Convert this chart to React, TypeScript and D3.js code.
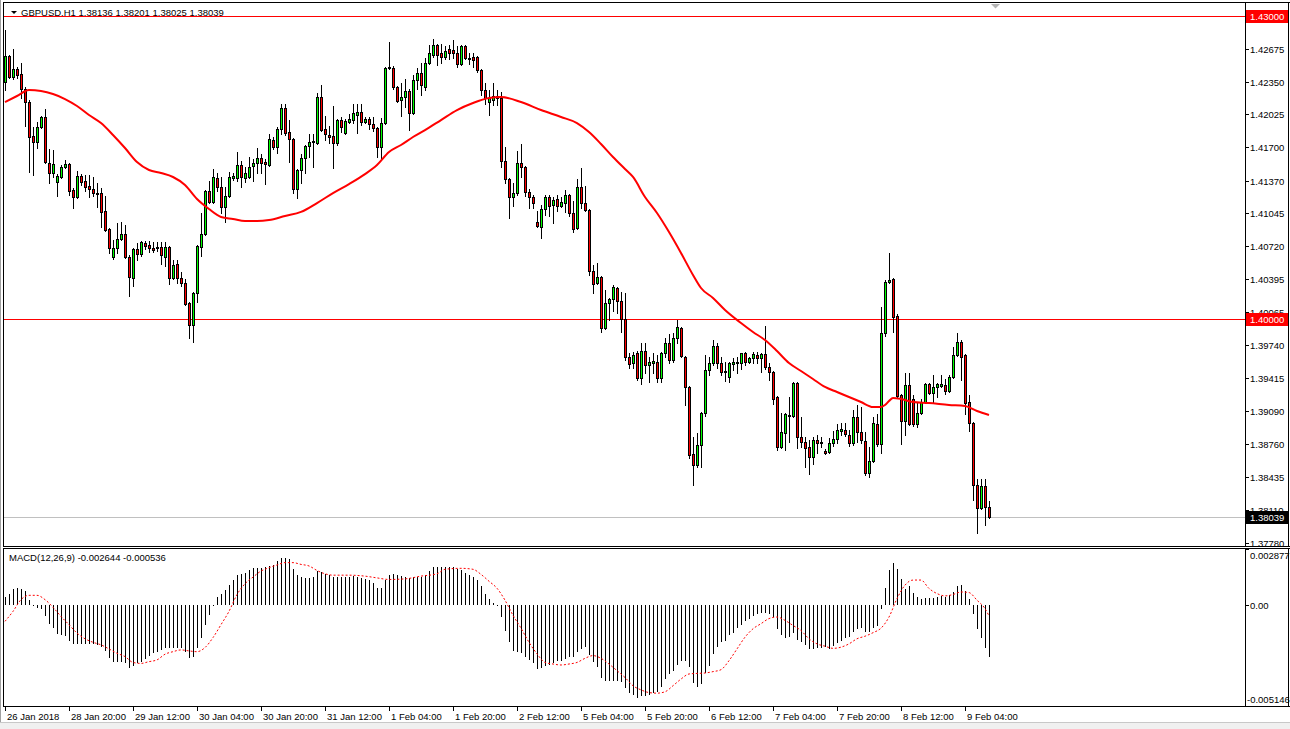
import React from 'react';
import * as d3 from 'd3';

// ---------- DATA (prices in points, 1e-5) ----------
const openPts = [142346,142604,142396,142475,142426,142277,142148,141812,141752,141901,142000,141544,141445,141356,141406,141505,141534,141277,141208,141416,141366,141317,141287,141247,141247,141069,140891,140614,140703,140792,140842,140614,140406,140693,140644,140753,140733,140703,140703,140713,140614,140713,140406,140544,140406,140356,140158,139941,140257,140713,140842,141267,141158,141396,141307,141109,141218,141396,141396,141525,141396,141406,141515,141544,141594,141554,141525,141772,141703,141881,142089,141851,141782,141287,141475,141594,141713,141752,141742,142198,141881,141822,141812,141742,141970,141841,141950,141970,142020,142049,141950,141980,141930,141891,141703,141940,142485,142485,142297,142168,142198,142257,142040,142366,142435,142297,142534,142614,142713,142634,142594,142673,142663,142634,142525,142703,142574,142594,142594,142465,142267,142148,142168,142208,142188,141564,141386,141208,141247,141544,141505,141257,141208,140960,140911,141089,141208,141129,141188,141119,141148,141228,141049,140901,141307,141148,141079,140475,140356,140416,139911,140158,140198,140307,140178,140000,139624,139564,139664,139416,139683,139545,139564,139574,139416,139664,139763,139594,139812,139911,139624,139327,138664,138555,138753,139070,139495,139564,139733,139564,139485,139426,139554,139564,139564,139664,139574,139614,139644,139614,139654,139525,139475,139228,138733,138872,139040,139040,139366,138832,138782,138733,138634,138802,138782,138693,138683,138772,138812,138891,138901,138852,138772,139030,138882,138792,138476,138594,138961,138763,139862,140366,140396,140030,139248,138990,139346,139208,138961,139070,139178,139356,139267,139327,139337,139346,139287,139426,139644,139772,139644,139178,138971,138357,138129,138347,138136];
const highPts = [142861,142614,142673,142495,142534,142297,142168,141901,141950,142010,142079,141683,141673,141435,141525,141574,141544,141297,141465,141435,141426,141426,141406,141346,141297,141218,140901,140782,140951,140960,140931,140634,140703,140753,140772,140772,140772,140762,140762,140762,140762,140723,140584,140584,140465,140396,140168,140267,140733,141049,141277,141366,141485,141445,141406,141307,141455,141445,141653,141564,141505,141604,141584,141693,141634,141584,141831,141802,141901,142128,142128,141970,141792,141485,141634,141723,141831,141831,142238,142317,142010,141911,142109,141980,142000,141980,142030,142128,142128,142128,142000,142000,142000,141901,141990,142495,142743,142505,142307,142337,142376,142277,142416,142485,142534,142584,142713,142772,142723,142723,142703,142713,142762,142703,142713,142713,142634,142634,142604,142475,142337,142267,142337,142267,142248,141703,141396,141346,141663,141733,141515,141287,141228,141069,141129,141228,141228,141208,141228,141208,141277,141238,141168,141386,141495,141317,141089,140535,140554,140426,140287,140208,140337,140317,140267,140257,139664,139673,139683,139763,139763,139624,139664,139644,139673,139812,139852,139862,139990,139921,139634,139337,138832,138872,139080,139644,139624,139792,139763,139624,139574,139574,139614,139624,139664,139673,139624,139673,139673,139664,139931,139564,139485,139238,139070,139070,139228,139376,139376,139030,138832,138802,138832,138852,138832,138713,138822,138891,138961,138971,138971,138901,139099,139149,139129,138882,138733,139030,139060,140119,140386,140654,140406,140050,139257,139465,139465,139248,139168,139208,139366,139366,139446,139366,139446,139406,139446,139723,139862,139792,139654,139248,138980,138416,138416,138416,138201];
const lowPts = [142267,142386,142376,142386,142188,141911,141455,141426,141693,141891,141544,141346,141406,141218,141396,141495,141228,141099,141198,141327,141267,141208,141218,141109,140911,140871,140654,140594,140654,140782,140604,140228,140327,140584,140624,140693,140664,140664,140673,140544,140525,140346,140396,140356,140327,140139,139812,139772,140168,140624,140832,141148,141148,141267,141049,140960,141208,141376,141366,141307,141356,141396,141366,141445,141445,141336,141515,141683,141643,141831,141822,141554,141247,141198,141346,141445,141604,141505,141733,141861,141772,141742,141495,141723,141851,141831,141940,141940,141841,141921,141940,141881,141861,141604,141574,141930,142475,142277,142148,142010,142099,141871,142030,142277,142218,142267,142525,142594,142515,142534,142574,142574,142584,142495,142515,142574,142525,142495,142445,142218,142128,142020,142119,142119,141505,141346,141000,141119,141228,141406,141218,141099,141099,140911,140802,141030,141020,140951,141069,141109,141060,141020,140862,140891,141099,141069,140436,140257,140346,139872,139901,139990,140079,140059,139872,139594,139515,139515,139396,139356,139465,139376,139465,139376,139376,139624,139564,139574,139763,139624,139149,138624,138357,138535,138535,139040,139446,139545,139515,139446,139386,139376,139495,139465,139505,139545,139564,139564,139564,139475,139505,139396,139158,138703,138723,138703,138782,139030,138723,138733,138535,138466,138564,138674,138733,138664,138674,138743,138772,138852,138842,138743,138753,138782,138772,138456,138436,138584,138743,138674,139832,140356,139872,139228,138763,138852,138951,138941,138931,139060,139168,139257,139168,139228,139327,139257,139277,139416,139634,139396,139060,138891,138208,137882,138119,137961,138025];
const closePts = [142604,142396,142475,142416,142277,142148,141802,141752,141901,142000,141554,141445,141534,141416,141505,141534,141267,141208,141416,141356,141307,141287,141247,141238,141060,140881,140703,140703,140792,140842,140614,140416,140693,140644,140762,140723,140703,140683,140713,140634,140713,140406,140535,140406,140356,140148,139941,140257,140723,140842,141267,141158,141406,141307,141109,141218,141406,141416,141525,141406,141445,141505,141544,141594,141544,141534,141782,141703,141881,142089,141841,141782,141287,141475,141594,141713,141752,141762,142198,141871,141831,141802,141742,141970,141901,141960,141980,142040,142049,141950,141980,141930,141891,141703,141940,142485,142495,142297,142158,142198,142257,142040,142366,142435,142317,142534,142634,142713,142614,142594,142653,142634,142634,142525,142703,142584,142584,142564,142465,142267,142188,142188,142208,142188,141564,141386,141208,141247,141544,141505,141257,141208,141148,140921,141089,141208,141119,141178,141119,141158,141228,141049,140891,141307,141148,141079,140475,140346,140416,139911,140158,140198,140317,140178,140000,139624,139554,139644,139416,139683,139545,139574,139584,139416,139664,139763,139594,139812,139921,139634,139327,138654,138555,138753,139070,139495,139564,139733,139564,139475,139475,139564,139574,139574,139664,139574,139614,139654,139614,139654,139525,139475,139208,138733,138882,139060,139050,139366,138832,138782,138723,138634,138802,138772,138772,138674,138772,138812,138901,138911,138862,138772,139030,138882,138802,138476,138594,138971,138763,139862,140366,140386,140020,139238,138990,139346,138961,138961,139070,139178,139356,139267,139327,139356,139356,139287,139426,139644,139772,139624,139168,138971,138357,138129,138347,138139,138039];

// Moving average read at sample bars
const maBars = [0,3,6,9,12,15,18,21,24,27,30,33,36,39,42,45,48,51,54,57,60,63,66,70,74,78,82,86,90,93,96,99,102,105,109,113,117,121,124,129,134,139,143,146,149,152,155,157,160,163,166,169,172,174,177,180,184,187,190,193,196,199,202,205,208,211,214,217,219,220,221,222,224,227,231,236,240,243,246];
const maPts = [142148,142208,142267,142257,142227,142178,142109,142020,141940,141822,141693,141554,141475,141445,141406,141327,141188,141089,141010,140990,140970,140970,140980,141020,141060,141148,141247,141336,141435,141525,141653,141723,141802,141871,141970,142069,142139,142188,142198,142148,142069,142000,141940,141851,141733,141604,141485,141406,141208,141049,140861,140654,140436,140307,140208,140089,139960,139871,139792,139683,139564,139485,139406,139327,139277,139228,139178,139129,139129,139148,139188,139218,139208,139178,139168,139149,139139,139089,139050];

// MACD main (histogram), units of 1e-5
const macdPts = [41,60,81,89,84,72,29,3,-14,-17,-57,-94,-117,-148,-154,-159,-182,-199,-199,-199,-199,-199,-199,-202,-211,-233,-267,-288,-288,-288,-297,-319,-309,-297,-288,-274,-259,-245,-237,-228,-216,-216,-216,-216,-220,-240,-267,-262,-216,-168,-99,-48,-2,41,58,76,106,127,153,158,166,178,189,192,192,195,201,206,226,243,243,235,184,154,146,140,140,144,175,171,161,154,144,144,144,144,144,149,144,140,135,127,115,89,86,127,154,158,154,149,146,140,146,146,146,154,175,195,197,197,197,197,195,184,178,166,154,144,127,98,58,34,12,-5,-60,-129,-185,-231,-237,-243,-266,-278,-295,-326,-322,-312,-305,-295,-283,-283,-274,-266,-266,-237,-223,-214,-254,-292,-317,-369,-386,-386,-386,-386,-391,-425,-449,-459,-475,-466,-463,-459,-446,-442,-420,-377,-351,-334,-305,-283,-283,-317,-398,-420,-403,-346,-309,-248,-214,-189,-180,-154,-140,-117,-99,-82,-68,-55,-43,-38,-38,-43,-60,-123,-154,-168,-163,-140,-175,-185,-202,-223,-223,-220,-220,-214,-223,-209,-192,-180,-168,-163,-134,-123,-117,-137,-134,-117,-108,-21,89,180,214,185,134,82,99,65,43,34,38,38,38,43,48,43,51,68,99,103,72,34,-43,-120,-168,-220,-264];

// MACD signal read at sample bars, units of 1e-5
const sigBars = [0,2,4,6,8,10,12,14,16,18,20,22,24,26,28,30,32,34,36,38,40,42,44,46,48,50,52,54,56,58,60,62,64,66,68,70,72,74,76,78,80,82,86,90,93,96,100,104,108,110,114,117,119,121,123,125,127,129,131,133,135,137,139,141,143,145,147,149,151,153,155,157,159,161,163,165,167,169,171,173,175,177,179,181,183,185,187,189,191,193,195,197,199,201,203,205,207,209,211,213,215,217,219,221,223,225,227,229,231,233,235,237,239,241,243,245,246];
const sigPts = [-82,-31,29,51,51,29,-10,-57,-99,-142,-171,-189,-202,-223,-245,-262,-292,-297,-288,-279,-250,-237,-228,-233,-237,-216,-165,-99,-31,55,110,144,175,192,206,218,218,209,201,178,161,154,154,149,140,132,135,149,161,184,189,184,158,123,87,26,-51,-117,-189,-248,-292,-300,-305,-300,-292,-271,-257,-271,-300,-334,-369,-411,-432,-446,-449,-442,-411,-377,-351,-348,-346,-339,-329,-283,-223,-163,-120,-94,-68,-60,-77,-103,-129,-171,-197,-209,-220,-214,-197,-171,-158,-140,-117,-60,34,103,129,129,86,60,48,55,68,65,26,-17,-54];

const timeLabels = ['26 Jan 2018','28 Jan 20:00','29 Jan 12:00','30 Jan 04:00','30 Jan 20:00','31 Jan 12:00','1 Feb 04:00','1 Feb 20:00','2 Feb 12:00','5 Feb 04:00','5 Feb 20:00','6 Feb 12:00','7 Feb 04:00','7 Feb 20:00','8 Feb 12:00','9 Feb 04:00'];
const timeLabelStep = 16;
const priceTicks = [1.42675,1.4235,1.42025,1.417,1.4137,1.41045,1.4072,1.40395,1.40065,1.3974,1.39415,1.3909,1.3876,1.38435,1.3811,1.3778];
const levelLines = [1.43, 1.40];
const lastPrice = 1.38039;
const macdTicks = [0.002877, 0, -0.005146];
const macdTickLabels = ['0.002877', '0.00', '-0.005146'];
const headerText = 'GBPUSD.H1  1.38136 1.38201 1.38025 1.38039';
const macdText = 'MACD(12,26,9) -0.002644 -0.000536';

const P = (v: number) => v / 1e5;
const opens = openPts.map(P), highs = highPts.map(P), lows = lowPts.map(P), closes = closePts.map(P);
const maVals = maPts.map(P), macd = macdPts.map(P), sigVals = sigPts.map(P);

const FONT = "'Liberation Sans', Arial, sans-serif";
const FS = 9.5;

export default function App() {
  const n = closes.length;
  const x = d3.scaleLinear().domain([0, n - 1]).range([5, 5 + 4 * (n - 1)]);
  const y = d3.scaleLinear().domain([1.40, 1.43]).range([319, 16]);
  const ym = d3.scaleLinear().domain([-0.005146, 0.002877]).range([706, 549]);
  const axisX = 1245;

  const maLine = d3.line<number>().x((_, k) => x(maBars[k])).y(v => y(v)).curve(d3.curveMonotoneX)(maVals) || '';
  const sigLine = d3.line<number>().x((_, k) => x(sigBars[k])).y(v => ym(v)).curve(d3.curveMonotoneX)(sigVals) || '';
  const zeroY = Math.round(ym(0));

  return (
    <svg width={1290} height={729} style={{ position: 'absolute', left: 0, top: 0, background: '#fff' }} fontFamily={FONT}>
      <rect x={0} y={0} width={1290} height={729} fill="#fff" />
      {/* outer chrome */}
      <line x1={0.5} y1={0} x2={0.5} y2={729} stroke="#a0a0a0" />
      <rect x={0} y={722} width={1290} height={7} fill="#f0f0f0" />
      <line x1={0} y1={722.5} x2={1290} y2={722.5} stroke="#c8c8c8" />

      {/* level lines */}
      {levelLines.map(l => (
        <line key={l} x1={4} x2={axisX} y1={Math.round(y(l)) + 0.5} y2={Math.round(y(l)) + 0.5} stroke="#ff0000" />
      ))}
      <line x1={4} x2={axisX} y1={Math.round(y(lastPrice)) + 0.5} y2={Math.round(y(lastPrice)) + 0.5} stroke="#c0c0c0" />

      {/* header */}
      <path d="M11,11 L17,11 L14,14 Z" fill="#000" />
      <text x={21} y={15.5} fontSize={FS} fill="#000">{headerText}</text>
      <path d="M991,4 L1000,4 L995.5,8.5 Z" fill="#b4b4b4" />

      {/* candles */}
      {closes.map((c, i) => {
        const o = opens[i];
        const cx = Math.round(x(i));
        const yh = Math.round(y(highs[i]));
        const yl = Math.round(y(lows[i]));
        const top = Math.round(y(Math.max(o, c)));
        const bot = Math.round(y(Math.min(o, c)));
        const col = c > o ? '#00ff00' : c < o ? '#ff0000' : '#000';
        return (
          <g key={i}>
            <rect x={cx} y={yh} width={1} height={Math.max(1, yl - yh + 1)} fill="#000" />
            <rect x={cx - 1} y={top} width={3} height={Math.max(1, bot - top + 1)} fill="#000" />
            {bot - top - 1 > 0 && <rect x={cx} y={top + 1} width={1} height={bot - top - 1} fill={col} />}
          </g>
        );
      })}

      {/* moving average */}
      <path d={maLine} fill="none" stroke="#ff0000" strokeWidth={2} />

      {/* main frame */}
      <line x1={3} y1={2.5} x2={1290} y2={2.5} stroke="#000" />
      <line x1={3.5} y1={2} x2={3.5} y2={547} stroke="#000" />
      <line x1={3} y1={546.5} x2={1290} y2={546.5} stroke="#000" />
      <line x1={axisX + 0.5} y1={2} x2={axisX + 0.5} y2={547} stroke="#000" />
      <line x1={1288.5} y1={2} x2={1288.5} y2={547} stroke="#000" />

      {/* price axis */}
      {priceTicks.map(t => {
        const ty = Math.round(y(t)) + 0.5;
        return (
          <g key={t}>
            <line x1={axisX} x2={axisX + 4} y1={ty} y2={ty} stroke="#000" />
            <text x={axisX + 5} y={ty + 3.5} fontSize={FS} fill="#000">{t.toFixed(5)}</text>
          </g>
        );
      })}
      {levelLines.map(l => {
        const ty = Math.round(y(l));
        return (
          <g key={'b' + l}>
            <rect x={axisX + 1} y={ty - 6} width={42} height={13} fill="#ff0000" />
            <text x={axisX + 5} y={ty + 3.5} fontSize={FS} fill="#fff">{l.toFixed(5)}</text>
          </g>
        );
      })}
      {(() => {
        const ty = Math.round(y(lastPrice));
        return (
          <g>
            <rect x={axisX + 1} y={ty - 6} width={42} height={13} fill="#000" />
            <text x={axisX + 5} y={ty + 3.5} fontSize={FS} fill="#fff">{lastPrice.toFixed(5)}</text>
          </g>
        );
      })()}

      {/* MACD panel */}
      {macd.map((v, i) => {
        const cx = Math.round(x(i));
        const yv = Math.round(ym(v));
        return <rect key={'m' + i} x={cx} y={Math.min(yv, zeroY)} width={1} height={Math.max(1, Math.abs(yv - zeroY))} fill="#000" />;
      })}
      <path d={sigLine} fill="none" stroke="#ff0000" strokeWidth={1} strokeDasharray="2,2" />
      <text x={9} y={561} fontSize={FS} fill="#000">{macdText}</text>
      <line x1={3} y1={548.5} x2={1290} y2={548.5} stroke="#000" />
      <line x1={3.5} y1={548} x2={3.5} y2={707} stroke="#000" />
      <line x1={3} y1={706.5} x2={1290} y2={706.5} stroke="#000" />
      <line x1={axisX + 0.5} y1={548} x2={axisX + 0.5} y2={707} stroke="#000" />
      <line x1={1288.5} y1={548} x2={1288.5} y2={707} stroke="#000" />
      {macdTicks.map((t, k) => {
        const ty = Math.round(ym(t)) + 0.5;
        const ly = Math.min(Math.max(ty, 555), 699);
        return (
          <g key={'mt' + k}>
            <line x1={axisX} x2={axisX + 4} y1={ty} y2={ty} stroke="#000" />
            <text x={t < 0 ? axisX + 2 : axisX + 5} y={ly + 3.5} fontSize={FS} fill="#000">{macdTickLabels[k]}</text>
          </g>
        );
      })}

      {/* time axis */}
      {timeLabels.map((lab, k) => {
        const tx = Math.round(x(k * timeLabelStep)) + 0.5;
        return (
          <g key={'t' + k}>
            <line x1={tx} x2={tx} y1={707} y2={711} stroke="#000" />
            <text x={tx + 1.5} y={719.5} fontSize={FS} fill="#000">{lab}</text>
          </g>
        );
      })}
    </svg>
  );
}
